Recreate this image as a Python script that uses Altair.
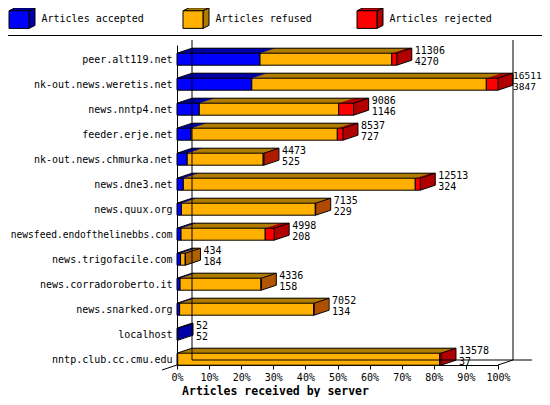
import json
import altair as alt
import pandas as pd

# ---------------- data ----------------
servers = ["peer.alt119.net", "nk-out.news.weretis.net", "news.nntp4.net", "feeder.erje.net",
           "nk-out.news.chmurka.net", "news.dne3.net", "news.quux.org",
           "newsfeed.endofthelinebbs.com", "news.trigofacile.com", "news.corradoroberto.it",
           "news.snarked.org", "localhost", "nntp.club.cc.cmu.edu"]
accepted = [4270, 3847, 1146, 727, 525, 324, 229, 208, 184, 158, 134, 52, 37]
refused = [6779, 12064, 7170, 7520, 3908, 11932, 6886, 4330, 240, 4163, 6898, 0, 13471]
rejected = [257, 600, 770, 290, 40, 257, 20, 460, 10, 15, 20, 0, 70]

categories = ["Articles accepted", "Articles refused", "Articles rejected"]
front_colors = ["#0000ff", "#ffb000", "#ff0000"]
dark_colors = ["#0000a8", "#b07c00", "#b00000"]
x_ticks = list(range(0, 101, 10))

MONO = "DejaVu Sans Mono"
HALF = 0.24          # half bar thickness in row units
Y_TOP, Y_BOT = -0.568, 12.232
DEPTH_X, DEPTH_Y = 15, 5

# the front-face legend needs its own (distinct) domain so it is not merged
front_keys = [c + " " for c in categories]

totals = [a + r + j for a, r, j in zip(accepted, refused, rejected)]
vmax = max(totals)

seg_rows = []
tot_rows = []
for i, s in enumerate(servers):
    vals = [accepted[i], refused[i], rejected[i]]
    cum = 0
    for c, fk, v in zip(categories, front_keys, vals):
        if v > 0:
            seg_rows.append({"server": s, "category": c, "kind": fk,
                             "start": cum / vmax * 100, "end": (cum + v) / vmax * 100,
                             "y0": i - HALF, "y1": i + HALF})
        cum += v
    tot_rows.append({"server": s, "zero": 0.0, "pct": totals[i] / vmax * 100,
                     "y0": i - HALF, "y1": i + HALF, "yc": float(i),
                     "total": str(totals[i]), "acc": str(accepted[i])})
seg = pd.DataFrame(seg_rows)
tot = pd.DataFrame(tot_rows)

# ---------------- scales / axes ----------------
XS = alt.Scale(domain=[0, 100], nice=False, zero=False)
YS = alt.Scale(domain=[Y_TOP, Y_BOT], reverse=True, nice=False, zero=False)

x_axis = alt.Axis(values=x_ticks, labelExpr="datum.value + '%'", tickSize=4, tickColor="black",
                  domainColor="black", labelFont=MONO, labelFontSize=10, labelColor="black",
                  labelPadding=3, grid=False, labelFlush=False, labelOverlap=False,
                  title="Articles received by server", titleFont=MONO, titleFontWeight="bold",
                  titleFontSize=11.5, titleColor="black", titleX=98, titleY=29.5,
                  titleAlign="center", titleBaseline="alphabetic")
y_axis = alt.Axis(values=list(range(len(servers))),
                  labelExpr=json.dumps(servers) + "[datum.value]",
                  ticks=False, domainColor="black", labelFont=MONO,
                  labelFontSize={"condition": {"test": "datum.value == 7", "value": 9.6},
                                 "value": 10},
                  labelColor="black", labelPadding=5, grid=False, title=None,
                  labelLimit=300, labelOverlap=False)

def X(field):
    return alt.X(field, type="quantitative", scale=XS, axis=x_axis, title="Articles received by server")

def Y(field):
    return alt.Y(field, type="quantitative", scale=YS, axis=y_axis, title=None)

# legend symbols (cube faces)
FRONT_PATH = "M-1,-0.64L0.538,-0.64L0.538,0.715L-1,0.715Z"
DARK_PATH = ("M-1,-0.64L-0.538,-0.87L1,-0.87L0.538,-0.64Z"
             "M0.538,-0.64L1,-0.87L1,0.485L0.538,0.715Z")

def legend(path, label_opacity):
    return alt.Legend(orient="none", legendX=-168.5, legendY=-39.5, direction="horizontal",
                      columns=3, columnPadding=36, gridAlign="all", title=None,
                      symbolType=path, symbolSize=676, symbolStrokeColor="black",
                      symbolStrokeWidth=1, symbolOpacity=1, labelFont=MONO, labelFontSize=10,
                      labelColor="black", labelOffset=6, padding=0, labelLimit=300,
                      labelOpacity=label_opacity)

dark_leg = legend(DARK_PATH, 1)
front_leg = legend(FRONT_PATH, 0)

layers = []

# 3D extrusion (drawn back to front)
for k in range(DEPTH_X, 0, -1):
    dy = -k * DEPTH_Y / DEPTH_X
    layers.append(
        alt.Chart(seg).mark_bar(xOffset=k, x2Offset=k, yOffset=dy, y2Offset=dy, strokeWidth=0)
        .encode(x=X("start"), x2="end", y=Y("y0"), y2="y1",
                color=alt.Color("category:N",
                                scale=alt.Scale(domain=categories, range=dark_colors),
                                legend=dark_leg))
    )

# outline rules of the 3D bodies
layers.append(alt.Chart(tot).mark_rule(color="black", xOffset=DEPTH_X, x2Offset=DEPTH_X,
                                       yOffset=-DEPTH_Y)
              .encode(x=X("zero"), x2="pct", y=Y("y0")))
layers.append(alt.Chart(tot).mark_rule(color="black", x2Offset=DEPTH_X, y2Offset=-DEPTH_Y)
              .encode(x=X("zero"), x2="zero", y=Y("y0"), y2="y0"))
layers.append(alt.Chart(tot).mark_rule(color="black", xOffset=DEPTH_X,
                                       yOffset=-DEPTH_Y, y2Offset=-DEPTH_Y)
              .encode(x=X("pct"), y=Y("y0"), y2="y1"))
layers.append(alt.Chart(tot).mark_rule(color="black", x2Offset=DEPTH_X, y2Offset=-DEPTH_Y)
              .encode(x=X("pct"), x2="pct", y=Y("y0"), y2="y0"))
layers.append(alt.Chart(tot).mark_rule(color="black", x2Offset=DEPTH_X, y2Offset=-DEPTH_Y)
              .encode(x=X("pct"), x2="pct", y=Y("y1"), y2="y1"))

# front faces
layers.append(
    alt.Chart(seg).mark_bar(stroke="black", strokeWidth=1)
    .encode(x=X("start"), x2="end", y=Y("y0"), y2="y1",
            fill=alt.Fill("kind:N", scale=alt.Scale(domain=front_keys, range=front_colors),
                          legend=front_leg))
)

# value labels (the widest bar's labels are nudged to stay inside the page)
lab_dx = alt.expr("datum.pct > 98 ? 15 : 18")
lab_fs = alt.expr("datum.pct > 98 ? 9.5 : 10")
layers.append(alt.Chart(tot).mark_text(align="left", baseline="middle", dx=lab_dx, dy=-8.5,
                                       font=MONO, fontSize=lab_fs, color="black")
              .encode(x=X("pct"), y=Y("yc"), text="total:N"))
layers.append(alt.Chart(tot).mark_text(align="left", baseline="middle", dx=lab_dx, dy=2.5,
                                       font=MONO, fontSize=lab_fs, color="black")
              .encode(x=X("pct"), y=Y("yc"), text="acc:N"))

# 3D frame (back walls and floor)
wall = pd.DataFrame({"xa": [0.0, 100.0], "ya": [Y_TOP, Y_TOP], "yb": [Y_BOT, Y_BOT]})
layers.append(alt.Chart(wall).mark_rule(color="black", xOffset=DEPTH_X,
                                        yOffset=-DEPTH_Y, y2Offset=-DEPTH_Y)
              .encode(x=X("xa"), y=Y("ya"), y2="yb"))
floor = pd.DataFrame({"xa": [0.0], "xb": [100.0], "yb": [Y_BOT]})
layers.append(alt.Chart(floor).mark_rule(color="black", xOffset=DEPTH_X, x2Offset=DEPTH_X + 19,
                                         yOffset=-DEPTH_Y)
              .encode(x=X("xa"), x2="xb", y=Y("yb")))
layers.append(alt.Chart(floor).mark_rule(color="black", xOffset=-DEPTH_X, yOffset=DEPTH_Y)
              .encode(x=X("xa"), x2="xa", y=Y("yb"), y2="yb"))
layers.append(alt.Chart(floor).mark_rule(color="black", x2Offset=DEPTH_X, y2Offset=-DEPTH_Y)
              .encode(x=X("xb"), x2="xb", y=Y("yb"), y2="yb"))

# legend separator line
layers.append(alt.Chart(floor).mark_rule(color="black", strokeWidth=1)
              .encode(x=alt.value(-169), x2=alt.value(365), y=alt.value(-9.5)))

chart = (
    alt.layer(*layers)
    .properties(width=321, height=320,
                autosize=alt.AutoSizeParams(type="none"),
                padding={"left": 169, "top": 37, "right": 44, "bottom": 32},
                background="white")
    .configure_view(strokeWidth=0)
)

chart.save("out.html", embed_options={"renderer": "svg", "actions": False})
